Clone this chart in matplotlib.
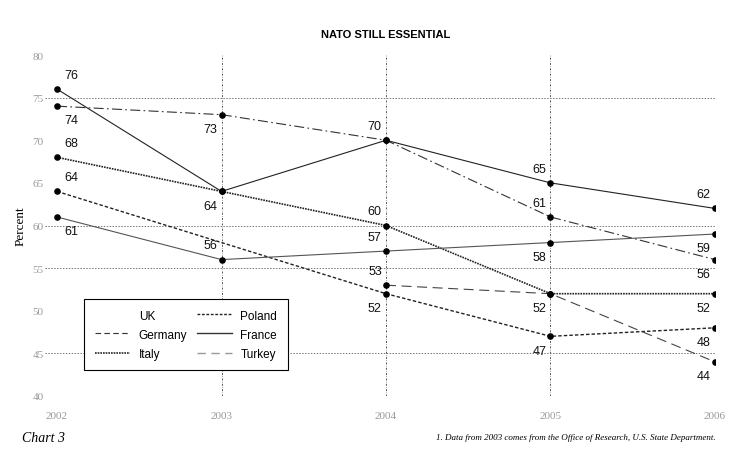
import matplotlib
matplotlib.use('Agg')
import matplotlib.pyplot as plt
from matplotlib.lines import Line2D

# data (NATO still essential, percent)
years = [2002, 2003, 2004, 2005, 2006]
uk = [76, 64, 70, 65, 62]
germany = [74, 73, 70, 61, 56]
italy = [68, 64, 60, 52, 52]
poland_years = [2002, 2004, 2005, 2006]
poland = [64, 52, 47, 48]
france = [61, 56, 57, 58, 59]
turkey_years = [2004, 2005, 2006]
turkey = [53, 52, 44]

# label side for each point: 'a' above, 'b' below
label_side = {
    (2002, 76): 'a', (2002, 74): 'b', (2002, 68): 'a', (2002, 64): 'a', (2002, 61): 'b',
    (2003, 73): 'b', (2003, 64): 'b', (2003, 56): 'a',
    (2004, 70): 'a', (2004, 60): 'a', (2004, 57): 'a', (2004, 53): 'a', (2004, 52): 'b',
    (2005, 65): 'a', (2005, 61): 'a', (2005, 58): 'b', (2005, 52): 'b', (2005, 47): 'b',
    (2006, 62): 'a', (2006, 59): 'b', (2006, 56): 'b', (2006, 52): 'b', (2006, 48): 'b', (2006, 44): 'b',
}

fig = plt.figure(figsize=(7.32, 4.6), dpi=100)
ax = fig.add_axes([45 / 732, 1 - 397 / 460, 670 / 732, 341 / 460])

ax.set_xlim(2002 - 12 / 164.5, 2006)
ax.set_ylim(40, 80)

# grid: only some horizontal lines show in the original
for g in [75, 60, 55, 45, 40]:
    ax.axhline(g, color='#777777', lw=0.7, ls=(0, (1.5, 1.5)), zorder=1)
for yr in years[1:]:
    ax.axvline(yr, color='#555555', lw=0.7, ls=(0, (2, 1.5, 0.5, 1.5)), zorder=1)

series = [
    ('UK', years, uk, dict(color='#222222', lw=0.8, ls='-')),
    ('Germany', years, germany, dict(color='#333333', lw=0.8, ls=(0, (9, 3, 1.5, 3)))),
    ('Italy', years, italy, dict(color='#222222', lw=1.2, ls=(0, (1, 0.6)))),
    ('Poland', poland_years, poland, dict(color='#222222', lw=1.0, ls=(0, (2.5, 1.5)))),
    ('France', years, france, dict(color='#555555', lw=0.8, ls='-')),
    ('Turkey', turkey_years, turkey, dict(color='#444444', lw=0.8, ls=(0, (9, 5)))),
]

points = set()
for name, xs, ys, st in series:
    ax.plot(xs, ys, zorder=2, **st)
    ax.scatter(xs, ys, s=14, color='black', zorder=3)
    points.update(zip(xs, ys))

for (x, y) in sorted(points):
    side = label_side.get((x, y), 'a')
    dy = 6 if side == 'a' else -6
    va = 'bottom' if side == 'a' else 'top'
    if x == 2002:
        ax.annotate(str(y), (x, y), xytext=(5, dy), textcoords='offset points',
                    ha='left', va=va, fontsize=9, color='#111111', family='Liberation Sans')
    else:
        ax.annotate(str(y), (x, y), xytext=(-3, dy), textcoords='offset points',
                    ha='right', va=va, fontsize=9, color='#111111', family='Liberation Sans')

for s in ax.spines.values():
    s.set_visible(False)
ax.set_xticks(years)
ax.set_xticklabels([str(y) for y in years])
ax.set_yticks(range(40, 81, 5))
ax.tick_params(length=0, labelsize=8, labelcolor='#999999')
for t in ax.get_xticklabels() + ax.get_yticklabels():
    t.set_family('Liberation Serif')
ax.tick_params(axis='x', pad=11)
ax.tick_params(axis='y', pad=1)
ax.set_ylabel('Percent', family='Liberation Serif', fontsize=9.5, labelpad=4)

# legend (UK entry shows no line in the original)
handles = [
    Line2D([], [], color='white', lw=0.8),
    Line2D([], [], color='#333333', lw=0.8, ls=(0, (5, 3))),
    Line2D([], [], color='#222222', lw=1.2, ls=(0, (1, 0.6))),
    Line2D([], [], color='#222222', lw=1.0, ls=(0, (2, 1.2))),
    Line2D([], [], color='#333333', lw=1.0, ls='-'),
    Line2D([], [], color='#999999', lw=1.0, ls=(0, (6, 4))),
]
labels = ['UK', 'Germany', 'Italy', 'Poland', 'France', 'Turkey']
leg = ax.legend(handles, labels, ncol=2, loc='lower left', bbox_to_anchor=(0.05, 0.058),
                frameon=True, fancybox=False, edgecolor='black', framealpha=1,
                prop={'family': 'Liberation Sans', 'size': 8.5}, handlelength=3.0,
                columnspacing=0.8, labelspacing=0.6, borderpad=0.9, handletextpad=0.7)
leg.get_frame().set_linewidth(0.8)
leg.set_zorder(5)

fig.text(386 / 732, 1 - 35 / 460, 'NATO STILL ESSENTIAL', ha='center', va='center',
         fontsize=8, fontweight='bold', family='Liberation Sans')
fig.text(22 / 732, 1 - 438 / 460, 'Chart 3', ha='left', va='center', fontsize=10,
         style='italic', family='Liberation Serif')
fig.text(716 / 732, 1 - 438 / 460,
         '1. Data from 2003 comes from the Office of Research, U.S. State Department.',
         ha='right', va='center', fontsize=6.5, style='italic', family='Liberation Serif')

fig.savefig('out.png', dpi=100)
